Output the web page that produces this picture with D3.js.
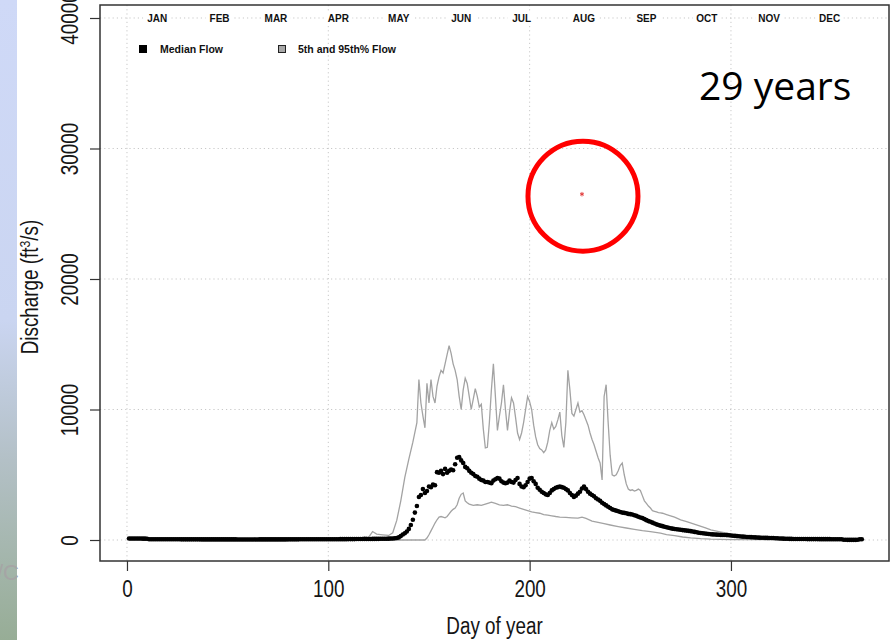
<!DOCTYPE html>
<html lang="en">
<head>
<meta charset="utf-8" />
<title>Discharge by day of year</title>
<style>
  body { margin: 0; background: #fff; }
  svg { display: block; }
  .narrow { font-family: "Liberation Sans", Arial, sans-serif; }
  .small { font-family: "Liberation Sans", Arial, sans-serif; font-weight: bold; font-size: 10.5px; fill: #111; }
  .grid line { stroke: #c8c8c8; stroke-width: 1; stroke-dasharray: 1.2 3; }
</style>
</head>
<body>
<svg width="896" height="640"></svg>
<script src="https://d3js.org/d3.v7.min.js"></script>
<script>
// ---- data ----
var months = ["JAN","FEB","MAR","APR","MAY","JUN","JUL","AUG","SEP","OCT","NOV","DEC"];
var monthMid = [15,46,74,105,135,166,196,227,258,288,319,349];
var xTicks = [0,100,200,300];
var yTicks = [0,10000,20000,30000,40000];

// median flow, one value per day (day 1..365)
var median = [
  120,120,115,115,110,110,110,105,105,100,
  60,60,58,58,56,56,55,55,54,54,
  54,53,53,52,52,52,51,51,50,50,
  50,50,50,49,49,49,48,48,48,48,
  47,47,47,47,46,46,46,46,45,45,
  45,45,45,45,44,44,44,44,44,44,
  44,44,44,44,44,45,45,45,45,45,
  46,46,46,47,47,47,48,48,48,49,
  49,50,50,51,51,52,52,53,53,54,
  54,55,55,56,56,57,58,58,59,60,
  60,61,62,62,63,64,65,66,67,68,
  69,70,71,72,73,74,75,76,78,80,
  82,84,86,88,90,92,95,98,100,104,
  110,120,130,150,200,300,420,520,650,850,
  1150,1550,2100,2600,3300,3450,3900,3600,3750,4100,
  4050,4250,4200,5200,5150,5300,5050,5450,5150,5300,
  5400,5350,5800,6300,6350,6100,5900,5600,5500,5300,
  5150,5050,4900,4850,4700,4600,4550,4450,4450,4400,
  4350,4550,4650,4750,4700,4500,4400,4350,4400,4550,
  4450,4400,4600,4750,4300,4100,4050,4200,4450,4700,
  4750,4500,4300,4000,3850,3700,3600,3500,3450,3600,
  3800,3900,4000,4050,4100,4050,4000,3900,3800,3600,
  3450,3300,3400,3550,3700,3950,4100,3900,3700,3550,
  3450,3350,3200,3100,3000,2850,2750,2650,2550,2450,
  2350,2300,2250,2200,2150,2100,2080,2050,2000,1980,
  1950,1900,1850,1780,1720,1680,1600,1520,1450,1400,
  1330,1260,1200,1150,1100,1060,1020,980,940,900,
  870,840,820,800,780,760,740,720,700,680,
  650,620,590,560,540,520,500,480,460,440,
  430,420,410,400,390,385,380,375,360,345,
  330,315,300,285,270,255,245,235,230,220,
  210,200,190,180,175,170,165,160,155,150,
  148,140,130,120,110,105,100,95,90,85,
  80,78,76,75,74,73,72,71,70,70,
  69,68,68,67,66,66,65,64,64,63,
  62,62,61,60,60,20,15,10,10,10,
  10,10,15,60,60
];

// 95th percentile flow: [day, value]
var p95 = [[1,120],[116,120],[118,250],[120,200],[122,650],[124,450],[127,400],[130,350],[132,550],
  [134,1500],[136,3000],[138,4800],[140,6200],[142,7500],[144,9000],[145,12300],[146,10500],[147,9500],
  [148,8600],[149,12000],[150,10500],[151,12300],[152,11000],[153,10500],[154,11800],[155,12500],
  [156,13000],[157,12800],[158,13500],[159,14200],[160,14900],[161,14300],[162,13500],[163,13000],
  [164,12300],[165,11000],[166,10000],[167,11500],[168,12400],[169,12000],[170,11000],[171,10000],
  [172,10800],[173,11600],[174,11000],[175,10200],[176,10400],[177,8500],[178,7050],[179,7100],
  [180,9000],[181,11500],[182,13500],[183,11000],[184,8400],[185,9500],[186,10500],[187,11900],
  [188,10000],[189,8400],[190,9800],[191,10900],[192,10500],[193,9400],[194,8200],[195,7700],
  [196,8200],[197,9000],[198,10000],[199,11000],[200,10600],[201,10000],[202,8800],[203,7900],
  [204,7300],[205,7000],[206,6900],[207,6700],[208,6900],[209,7500],[210,8400],[211,9000],[212,8500],
  [213,8700],[214,9200],[215,9800],[216,8000],[217,7100],[218,9000],[219,13000],[220,11500],
  [221,9700],[222,9500],[223,10000],[224,10500],[225,9800],[226,9900],[227,9600],[228,9200],
  [229,8800],[230,8200],[231,7700],[232,7300],[233,6800],[234,6300],[235,5900],[236,4600],
  [237,11000],[238,11900],[239,9000],[240,6500],[241,5000],[242,4900],[243,5000],[244,5300],
  [245,5700],[246,5900],[247,5000],[248,4300],[249,3900],[250,3800],[251,3850],[252,3750],
  [253,3800],[254,3900],[255,3800],[256,3400],[257,3000],[258,2800],[259,2600],[260,2450],
  [261,2250],[262,2200],[263,2150],[264,2100],[265,2080],[266,2050],[267,2000],[268,1950],
  [270,1850],[272,1750],[275,1550],[278,1400],[281,1250],[284,1100],[287,950],[290,770],
  [294,650],[298,520],[302,380],[306,250],[310,180],[315,140],[320,120],[330,110],[365,110]];

// 5th percentile flow: [day, value]
var p05 = [[1,0],[148,0],[149,150],[150,400],[151,700],[152,1000],[153,1300],[154,1550],[155,1750],
  [156,1800],[157,1750],[158,1700],[159,1800],[160,2000],[161,2200],[162,2350],[163,2450],[164,2700],
  [165,3200],[166,3500],[167,3600],[168,3000],[169,2850],[170,2750],[172,2650],[174,2700],[176,2650],
  [178,2750],[180,2850],[181,2900],[183,2800],[185,2700],[187,2650],[189,2700],[191,2600],[193,2550],
  [195,2450],[197,2350],[199,2250],[201,2150],[203,2100],[205,2050],[207,1950],[209,1900],[211,1850],
  [213,1800],[215,1760],[218,1730],[221,1700],[224,1680],[226,1750],[228,1650],[231,1450],[234,1350],
  [237,1250],[240,1150],[244,1030],[248,920],[252,820],[256,720],[260,640],[265,520],[268,420],
  [272,330],[276,230],[280,160],[285,100],[290,60],[300,30],[365,20]];

// the circled point
var flagged = [[226,26500]];

// ---- drawing ----
var svg = d3.select("svg"),
    plotL = 100, plotR = 889, plotT = 5, plotB = 561,
    squeeze = 0.82;   // the original chart is horizontally compressed

var x = d3.scaleLinear().domain([-13.4, 378.5]).range([plotL, plotR]);
var y = d3.scaleLinear().domain([-1609, 40996]).range([plotB, plotT]);

// slide remnant strip on the left
var grad = svg.append("defs").append("linearGradient")
    .attr("id", "strip").attr("x1", 0).attr("y1", 0).attr("x2", 0).attr("y2", 1);
grad.append("stop").attr("offset", "0").attr("stop-color", "#cfd9f7");
grad.append("stop").attr("offset", "0.5").attr("stop-color", "#cad5f1");
grad.append("stop").attr("offset", "0.72").attr("stop-color", "#b3c0c6");
grad.append("stop").attr("offset", "1").attr("stop-color", "#97ad96");
svg.append("rect").attr("x", 0).attr("y", 0).attr("width", 17).attr("height", 640).attr("fill", "url(#strip)");
svg.append("text").attr("x", 0).attr("y", 580)
    .attr("transform", "translate(-3,0)")
    .style("font-family", "Liberation Sans, Arial, sans-serif").style("font-size", "22px")
    .style("fill", "#a5a5a5").text("/C");

// grid
var grid = svg.append("g").attr("class", "grid");
grid.selectAll(".h").data(yTicks).enter().append("line")
    .attr("x1", plotL).attr("x2", plotR)
    .attr("y1", function(d) { return y(d); }).attr("y2", function(d) { return y(d); });
grid.selectAll(".v").data(xTicks).enter().append("line")
    .attr("y1", plotT).attr("y2", plotB)
    .attr("x1", function(d) { return x(d); }).attr("x2", function(d) { return x(d); });

// month labels along the top, over the grid line
var mg = svg.append("g");
mg.selectAll("rect").data(monthMid).enter().append("rect")
    .attr("x", function(d) { return x(d) - 14; }).attr("y", 12)
    .attr("width", 28).attr("height", 12).attr("fill", "#fff");
mg.selectAll("text").data(months).enter().append("text")
    .attr("class", "small")
    .attr("x", function(d, i) { return x(monthMid[i]); })
    .attr("y", 22)
    .attr("text-anchor", "middle")
    .style("font-size", "10px")
    .text(function(d) { return d; });

// legend
svg.append("rect").attr("x", 139).attr("y", 45).attr("width", 8).attr("height", 8).attr("fill", "#000");
svg.append("text").attr("class", "small").attr("x", 160).attr("y", 53).text("Median Flow");
svg.append("rect").attr("x", 278.5).attr("y", 45.5).attr("width", 7).attr("height", 7)
    .attr("fill", "#a8a8a8").attr("stroke", "#222").attr("stroke-width", 1);
svg.append("text").attr("class", "small").attr("x", 298).attr("y", 53).text("5th and 95th% Flow");

// percentile lines
var line = d3.line()
    .x(function(d) { return x(d[0]); })
    .y(function(d) { return y(d[1]); });

svg.append("path").datum(p95).attr("d", line)
    .attr("fill", "none").attr("stroke", "#a3a3a3").attr("stroke-width", 1.3);
svg.append("path").datum(p05).attr("d", line)
    .attr("fill", "none").attr("stroke", "#a3a3a3").attr("stroke-width", 1.3);

// median dots
svg.append("g").selectAll("circle").data(median).enter().append("circle")
    .attr("cx", function(d, i) { return x(i + 1); })
    .attr("cy", function(d) { return y(d); })
    .attr("r", 2.3)
    .attr("fill", "#000");

// flagged point and its red ring
svg.selectAll(".flag").data(flagged).enter().append("path")
    .attr("transform", function(d) { return "translate(" + x(d[0]) + "," + y(d[1]) + ")"; })
    .attr("d", d3.symbol().type(d3.symbolAsterisk).size(14))
    .attr("stroke", "#e03030").attr("stroke-width", 0.9).attr("fill", "none");
svg.selectAll(".ring").data(flagged).enter().append("circle")
    .attr("cx", function(d) { return x(d[0]) + 1; })
    .attr("cy", function(d) { return y(d[1]) + 2; })
    .attr("r", 55)
    .attr("fill", "none").attr("stroke", "#ff0000").attr("stroke-width", 5);

// frame
svg.append("rect").attr("x", plotL).attr("y", plotT)
    .attr("width", plotR - plotL).attr("height", plotB - plotT)
    .attr("fill", "none").attr("stroke", "#333").attr("stroke-width", 1.5);

// axes
var xAxis = svg.append("g")
    .attr("transform", "translate(0," + plotB + ")")
    .call(d3.axisBottom(x).tickValues(xTicks).tickSize(10).tickFormat(d3.format("d")));
xAxis.select(".domain").remove();
xAxis.selectAll("line").attr("stroke", "#333").attr("stroke-width", 1.2);
xAxis.selectAll("text").attr("class", "narrow")
    .attr("x", 0).attr("y", 36).attr("dy", null)
    .attr("transform", "scale(" + squeeze + ",1)")
    .style("font-size", "23px").style("fill", "#151515");

var yAxis = svg.append("g")
    .attr("transform", "translate(" + plotL + ",0)")
    .call(d3.axisLeft(y).tickValues(yTicks).tickSize(10).tickFormat(d3.format("d")));
yAxis.select(".domain").remove();
yAxis.selectAll("line").attr("stroke", "#333").attr("stroke-width", 1.2);
yAxis.selectAll("text").attr("class", "narrow")
    .attr("transform", "rotate(-90) scale(" + squeeze + ",1)")
    .attr("x", 0).attr("y", -22).attr("dy", null)
    .attr("text-anchor", "middle")
    .style("font-size", "23px").style("fill", "#151515");

// axis titles
svg.append("text").attr("class", "narrow")
    .attr("transform", "translate(" + ((plotL + plotR) / 2) + ",634) scale(" + squeeze + ",1)")
    .attr("text-anchor", "middle")
    .style("font-size", "23px").style("fill", "#151515")
    .text("Day of year");

var yt = svg.append("text").attr("class", "narrow")
    .attr("transform", "translate(38," + ((plotT + plotB) / 2 + 4) + ") rotate(-90) scale(" + squeeze + ",1)")
    .attr("text-anchor", "middle")
    .style("font-size", "23px").style("fill", "#151515");
yt.append("tspan").text("Discharge (ft");
yt.append("tspan").attr("dy", -8).style("font-size", "15px").text("3");
yt.append("tspan").attr("dy", 8).text("/s)");

// annotation
svg.append("text")
    .attr("x", 699).attr("y", 100)
    .style("font-family", "'Open Sans', 'Noto Sans', sans-serif")
    .style("font-size", "39px").style("fill", "#000")
    .text("29 years");
</script>
</body>
</html>
